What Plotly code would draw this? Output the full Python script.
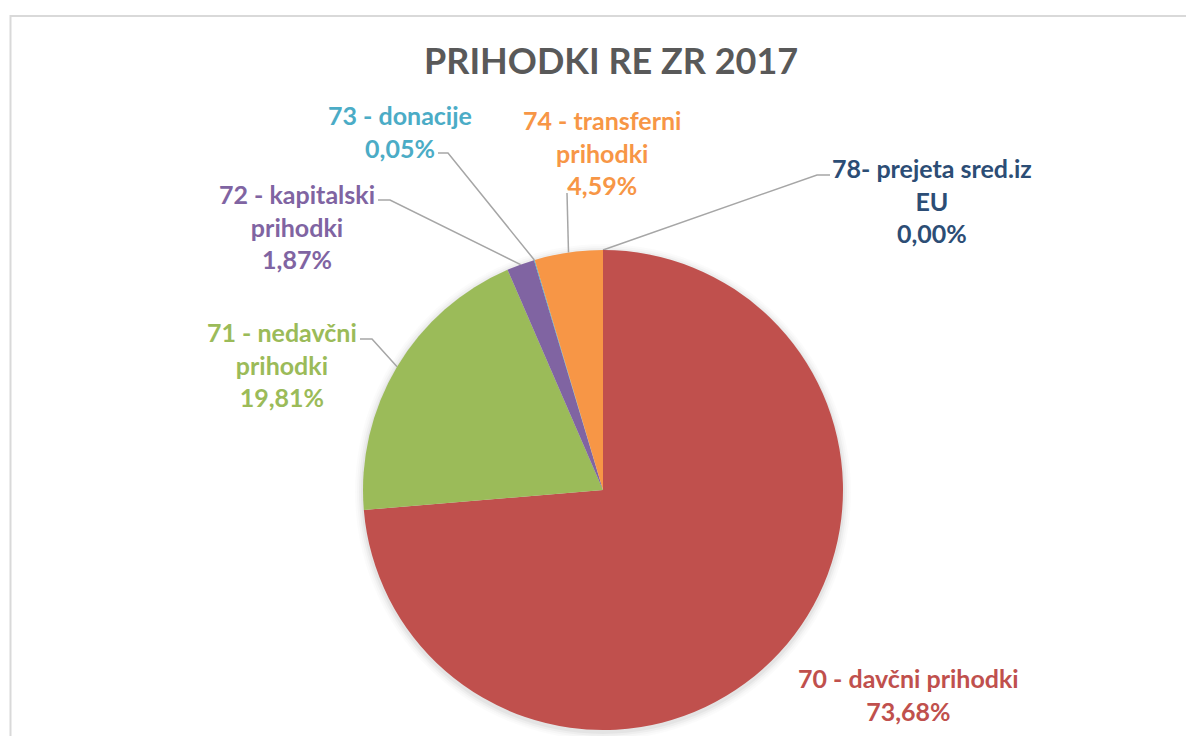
import math
import plotly.graph_objects as go

# ---- data ----
categories = ["70 - davčni prihodki", "71 - nedavčni prihodki", "72 - kapitalski prihodki",
              "73 - donacije", "74 - transferni prihodki", "78- prejeta sred.iz EU"]
values = [73.68, 19.81, 1.87, 0.05, 4.59, 0.00]
label_texts = ["70 - davčni prihodki<br>73,68%",
               "71 - nedavčni<br>prihodki<br>19,81%",
               "72 - kapitalski<br>prihodki<br>1,87%",
               "73 - donacije<br>0,05%",
               "74 - transferni<br>prihodki<br>4,59%",
               "78- prejeta sred.iz<br>EU<br>0,00%"]
slice_colors = ["#C0504D", "#9BBB59", "#8064A2", "#4BACC6", "#F79646", "#1F497D"]
label_colors = ["#C0504D", "#9BBB59", "#8064A2", "#4BACC6", "#F79646", "#2C4D75"]
title_text = "PRIHODKI RE ZR 2017"

# ---- layout (window pixel positions; page body has an 8px margin) ----
OFF = 8
W, H = 1194 - OFF, 736 - OFF
CX, CY, R = 603 - OFF, 490 - OFF, 240
label_pos = [(908, 694), (282, 364), (297, 226), (400, 131), (602, 152), (932, 200)]
leader_start = [None,
                [(360, 339), (372, 339)],
                [(378, 200), (390, 200)],
                [(438, 153), (448, 153)],
                [(567, 193)],
                [(830, 175), (817, 175)]]
title_pos = (611, 60)


def px(p):
    return (p[0] - OFF, p[1] - OFF)


fig = go.Figure()

fig.add_trace(go.Pie(
    labels=categories, values=values, sort=False, direction="clockwise", rotation=0,
    marker=dict(colors=slice_colors, line=dict(width=0)),
    textinfo="none", hoverinfo="label+percent", showlegend=False,
    domain=dict(x=[(CX - R) / W, (CX + R) / W], y=[(H - CY - R) / H, (H - CY + R) / H]),
))

# leader lines, ending on the rim at each slice's mid-angle
total = sum(values)
cum = 0.0
for i, v in enumerate(values):
    mid = (cum + v / 2) / total
    cum += v
    if leader_start[i] is None:
        continue
    ang = 2 * math.pi * mid
    ex = CX + R * math.sin(ang)
    ey = CY - R * math.cos(ang)
    pts = [px(p) for p in leader_start[i]] + [(ex, ey)]
    fig.add_trace(go.Scatter(x=[p[0] for p in pts], y=[p[1] for p in pts], mode="lines",
                             line=dict(color="#A6A6A6", width=1.5), hoverinfo="skip",
                             showlegend=False, xaxis="x", yaxis="y"))

annotations = []
for p, t, c in zip(label_pos, label_texts, label_colors):
    x, y = px(p)
    annotations.append(dict(x=x, y=y, xref="x", yref="y", text=t, showarrow=False,
                            xanchor="center", yanchor="middle", align="center",
                            font=dict(family="Lato", size=25, color=c, weight="bold")))
tx, ty = px(title_pos)
annotations.append(dict(x=tx, y=ty, xref="x", yref="y", text=title_text, showarrow=False,
                        xanchor="center", yanchor="middle",
                        font=dict(family="Lato", size=36, color="#595959", weight="bold")))

bx0, by0 = px((10.5, 16))
shapes = [dict(type="rect", xref="x", yref="y", x0=bx0, y0=by0, x1=W + 20, y1=H + 20,
               line=dict(color="#D9D9D9", width=2), layer="below")]
for k, a in [(8, 0.015), (6, 0.02), (4, 0.03), (2, 0.04)]:
    shapes.append(dict(type="circle", xref="x", yref="y", x0=CX - R - k, x1=CX + R + k,
                       y0=CY - R - k + 2, y1=CY + R + k + 2,
                       fillcolor=f"rgba(0,0,0,{a})", line=dict(width=0), layer="below"))

fig.update_layout(
    width=W, height=H, margin=dict(l=0, r=0, t=0, b=0),
    paper_bgcolor="white", plot_bgcolor="rgba(0,0,0,0)",
    xaxis=dict(range=[0, W], visible=False, fixedrange=True, domain=[0, 1]),
    yaxis=dict(range=[H, 0], visible=False, fixedrange=True, domain=[0, 1]),
    annotations=annotations, shapes=shapes,
)

fig.write_html("out.html")
